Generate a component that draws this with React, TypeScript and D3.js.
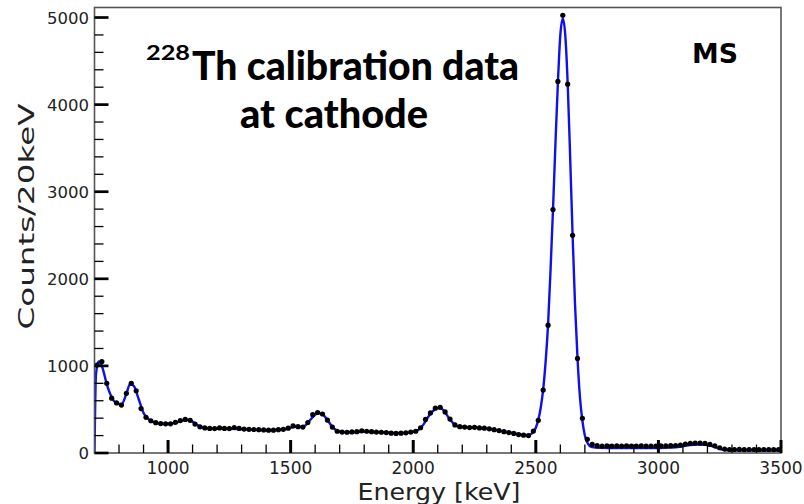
import React from "react";
import * as d3 from "d3";

// Bin centres (keV) of the 20 keV bins and measured counts
const binEnergy: number[] = [
  710, 730, 750, 770, 790, 810, 830, 850, 870, 890,
  910, 930, 950, 970, 990, 1010, 1030, 1050, 1070, 1090,
  1110, 1130, 1150, 1170, 1190, 1210, 1230, 1250, 1270, 1290,
  1310, 1330, 1350, 1370, 1390, 1410, 1430, 1450, 1470, 1490,
  1510, 1530, 1550, 1570, 1590, 1610, 1630, 1650, 1670, 1690,
  1710, 1730, 1750, 1770, 1790, 1810, 1830, 1850, 1870, 1890,
  1910, 1930, 1950, 1970, 1990, 2010, 2030, 2050, 2070, 2090,
  2110, 2130, 2150, 2170, 2190, 2210, 2230, 2250, 2270, 2290,
  2310, 2330, 2350, 2370, 2390, 2410, 2430, 2450, 2470, 2490,
  2510, 2530, 2550, 2570, 2590, 2610, 2630, 2650, 2670, 2690,
  2710, 2730, 2750, 2770, 2790, 2810, 2830, 2850, 2870, 2890,
  2910, 2930, 2950, 2970, 2990, 3010, 3030, 3050, 3070, 3090,
  3110, 3130, 3150, 3170, 3190, 3210, 3230, 3250, 3270, 3290,
  3310, 3330, 3350, 3370, 3390, 3410, 3430, 3450, 3470, 3490,
];

const binCounts: number[] = [
  1010, 1050, 800, 630, 575, 550, 685, 800, 715, 510,
  410, 370, 348, 338, 335, 335, 352, 372, 385, 375,
  332, 300, 288, 282, 280, 288, 282, 280, 292, 282,
  275, 272, 270, 268, 265, 262, 262, 268, 272, 285,
  312, 302, 298, 350, 440, 465, 448, 378, 298, 250,
  240, 238, 242, 245, 255, 250, 245, 240, 238, 235,
  228, 225, 228, 232, 240, 250, 290, 385, 460, 515,
  525, 472, 390, 322, 302, 298, 292, 295, 288, 285,
  278, 268, 258, 245, 235, 225, 212, 205, 200, 252,
  375, 722, 1468, 2795, 4266, 5026, 4235, 2500, 1086, 398,
  157, 100, 84, 80, 82, 80, 81, 79, 82, 80,
  79, 81, 78, 80, 79, 81, 82, 84, 86, 92,
  102, 110, 115, 114, 110, 100, 82, 60, 45, 40,
  39, 41, 38, 40, 39, 38, 40, 39, 38, 40,
];

// Fitted spectrum model
const fitEnergy: number[] = [
  700, 706, 716, 730, 750, 770, 790, 810, 830, 845,
  860, 880, 900, 920, 940, 960, 980, 1000, 1020, 1040,
  1060, 1080, 1100, 1120, 1140, 1160, 1200, 1250, 1300, 1350,
  1400, 1450, 1480, 1500, 1520, 1540, 1560, 1580, 1600, 1615,
  1630, 1650, 1670, 1690, 1710, 1750, 1800, 1850, 1900, 1950,
  1990, 2020, 2040, 2060, 2080, 2100, 2115, 2130, 2150, 2170,
  2190, 2250, 2300, 2350, 2400, 2440, 2470, 2490, 2510, 2520,
  2530, 2540, 2550, 2560, 2570, 2580, 2590, 2600, 2610, 2620,
  2630, 2640, 2650, 2660, 2670, 2680, 2690, 2700, 2710, 2720,
  2730, 2760, 2800, 2900, 3000, 3050, 3080, 3100, 3130, 3160,
  3190, 3210, 3230, 3250, 3270, 3300, 3400, 3500,
];

const fitCounts: number[] = [
  0, 900, 1050, 1000, 790, 640, 570, 560, 680, 790,
  770, 620, 460, 390, 355, 340, 335, 335, 340, 355,
  375, 382, 360, 320, 295, 283, 278, 277, 274, 268,
  262, 265, 275, 290, 302, 300, 315, 380, 440, 458,
  445, 380, 300, 255, 240, 238, 245, 240, 232, 228,
  238, 265, 320, 410, 480, 515, 510, 465, 385, 325,
  302, 292, 280, 257, 232, 210, 205, 240, 380, 520,
  730, 1050, 1480, 2100, 2790, 3550, 4250, 4800, 4990, 4800,
  4240, 3400, 2500, 1700, 1090, 640, 370, 200, 120, 80,
  68, 60, 58, 57, 58, 62, 68, 78, 92, 98,
  95, 85, 68, 48, 35, 30, 28, 28,
];

const xMajorTicks: number[] = [1000, 1500, 2000, 2500, 3000, 3500];
const xMinorTicks: number[] = [
  800, 900, 1100, 1200, 1300, 1400, 1600, 1700, 1800, 1900,
  2100, 2200, 2300, 2400, 2600, 2700, 2800, 2900, 3100, 3200, 3300, 3400,
];
const yMajorTicks: number[] = [0, 1000, 2000, 3000, 4000, 5000];
const yMinorTicks: number[] = [
  200, 400, 600, 800, 1200, 1400, 1600, 1800, 2200, 2400, 2600, 2800,
  3200, 3400, 3600, 3800, 4200, 4400, 4600, 4800,
];

const xLabel = "Energy [keV]";
const yLabel = "Counts/20keV";
const titleIsotope = "228";
const titleLine1 = "Th calibration data";
const titleLine2 = "at cathode";
const tagLabel = "MS";

export default function App() {
  const W = 804;
  const H = 504;
  const x = d3.scaleLinear().domain([700, 3500]).range([94.5, 781]);
  const y = d3.scaleLinear().domain([0, 5115]).range([453, 7.5]);

  const fitPts: [number, number][] = fitEnergy.map((e, i) => [e, fitCounts[i]]);
  const fitLine = d3
    .line<[number, number]>()
    .x((d) => x(d[0]))
    .y((d) => y(d[1]))
    .curve(d3.curveMonotoneX);

  const x0 = x(700);
  const x1 = x(3500);
  const y0 = y(0);
  const yTop = y(5115);
  const sans = "'DejaVu Sans', sans-serif";
  const titleFont = "Lato, 'Open Sans', sans-serif";

  return (
    <svg
      width={W}
      height={H}
      viewBox={`0 0 ${W} ${H}`}
      style={{ position: "absolute", left: 0, top: 0, background: "#fff" }}
    >
      <rect x={0} y={0} width={W} height={H} fill="#fff" />
      <defs>
        <clipPath id="plotclip">
          <rect x={x0} y={yTop} width={x1 - x0} height={y0 - yTop} />
        </clipPath>
      </defs>

      {/* fit curve */}
      <path
        d={fitLine(fitPts) || ""}
        fill="none"
        stroke="#1010ee"
        strokeWidth={2.4}
        clipPath="url(#plotclip)"
      />

      {/* data points */}
      <g clipPath="url(#plotclip)">
        {binEnergy.map((e, i) => (
          <circle key={e} cx={x(e)} cy={y(binCounts[i])} r={2.6} fill="#000" />
        ))}
      </g>

      {/* frame */}
      <rect
        x={x0}
        y={yTop}
        width={x1 - x0}
        height={y0 - yTop}
        fill="none"
        stroke="#555"
        strokeWidth={1.6}
      />

      {/* x ticks */}
      {xMinorTicks.map((t) => (
        <line key={"xm" + t} x1={x(t)} x2={x(t)} y1={y0} y2={y0 - 8.5} stroke="#000" strokeWidth={1.3} />
      ))}
      {xMajorTicks.map((t) => (
        <line key={"xM" + t} x1={x(t)} x2={x(t)} y1={y0} y2={y0 - 13} stroke="#000" strokeWidth={3} />
      ))}
      {xMajorTicks.map((t) => (
        <text
          key={"xl" + t}
          x={x(t)}
          y={473.5}
          textAnchor="middle"
          fontFamily={sans}
          fontSize={17}
          fill="#222"
        >
          {t}
        </text>
      ))}

      {/* y ticks */}
      {yMinorTicks.map((t) => (
        <line key={"ym" + t} x1={x0} x2={x0 + 9} y1={y(t)} y2={y(t)} stroke="#000" strokeWidth={1.3} />
      ))}
      {yMajorTicks.map((t) => (
        <line key={"yM" + t} x1={x0} x2={x0 + 14} y1={y(t)} y2={y(t)} stroke="#000" strokeWidth={2.7} />
      ))}
      {yMajorTicks.map((t) => (
        <text
          key={"yl" + t}
          x={89}
          y={y(t) + 6}
          textAnchor="end"
          fontFamily={sans}
          fontSize={16.5}
          fill="#222"
        >
          {t}
        </text>
      ))}

      {/* axis titles */}
      <text
        x={439}
        y={500}
        textAnchor="middle"
        fontFamily={sans}
        fontSize={23}
        fill="#222"
        textLength={163}
        lengthAdjust="spacingAndGlyphs"
      >
        {xLabel}
      </text>
      <text
        transform="translate(33.5,216.5) rotate(-90)"
        textAnchor="middle"
        fontFamily={sans}
        fontSize={21}
        fill="#222"
        textLength={226}
        lengthAdjust="spacingAndGlyphs"
      >
        {yLabel}
      </text>

      {/* title */}
      <text
        x={146}
        y={60}
        fontFamily={titleFont}
        fontWeight={700}
        fontSize={21}
        fill="#000"
        textLength={44}
        lengthAdjust="spacingAndGlyphs"
      >
        {titleIsotope}
      </text>
      <text
        x={192}
        y={80}
        fontFamily={titleFont}
        fontWeight={900}
        fontSize={39}
        fill="#000"
        textLength={327}
        lengthAdjust="spacingAndGlyphs"
      >
        {titleLine1}
      </text>
      <text
        x={240}
        y={128}
        fontFamily={titleFont}
        fontWeight={900}
        fontSize={39}
        fill="#000"
        textLength={188}
        lengthAdjust="spacingAndGlyphs"
      >
        {titleLine2}
      </text>

      {/* tag */}
      <text
        x={715}
        y={63}
        textAnchor="middle"
        fontFamily={sans}
        fontWeight={700}
        fontSize={27}
        fill="#000"
        textLength={46}
        lengthAdjust="spacingAndGlyphs"
      >
        {tagLabel}
      </text>
    </svg>
  );
}
